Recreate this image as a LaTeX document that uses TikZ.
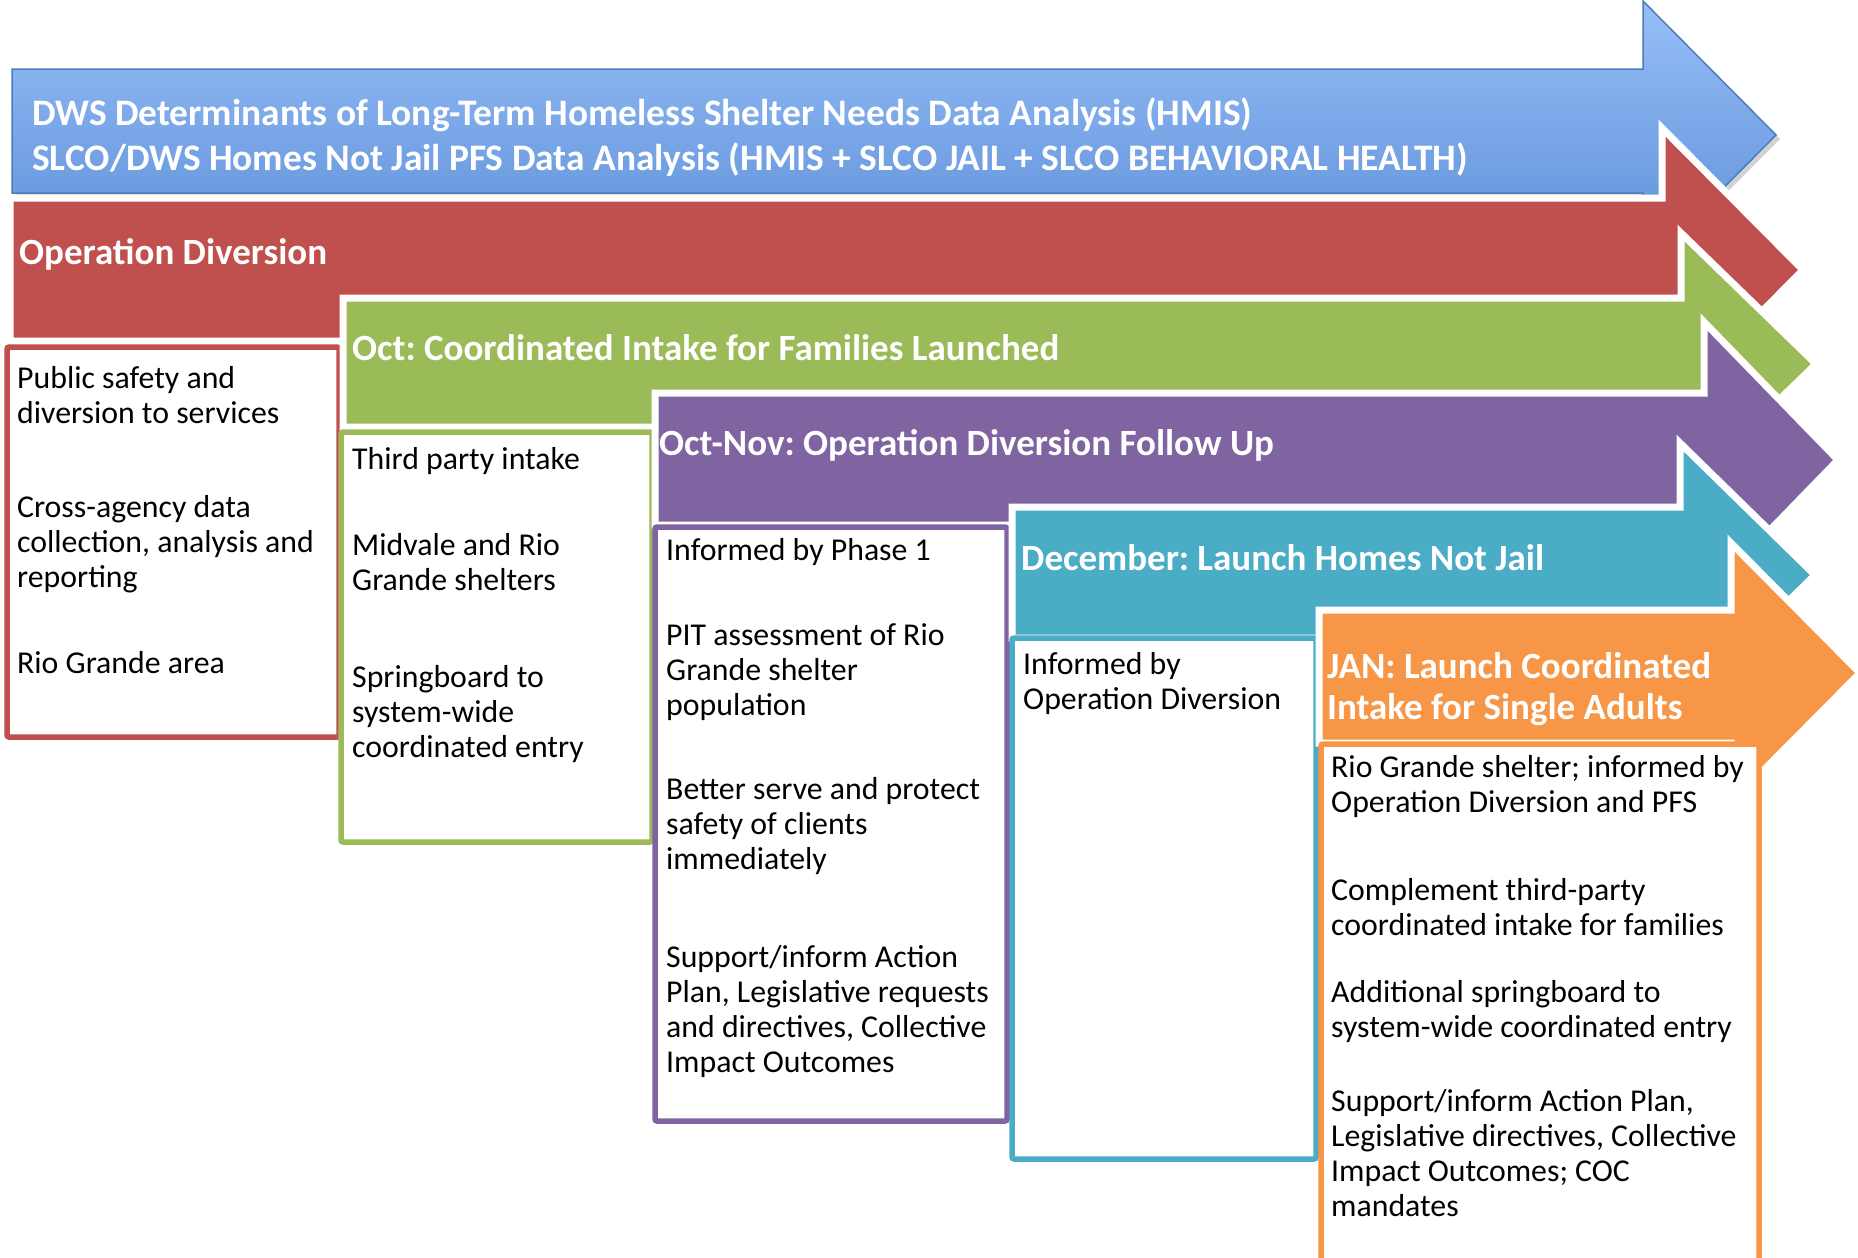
\documentclass[tikz,border=0pt]{standalone}
\usepackage{fontspec}
\setmainfont{Carlito}
\usetikzlibrary{shadows}
\definecolor{cblueT}{HTML}{97BEF8}
\definecolor{cblueB}{HTML}{5B8ED6}
\definecolor{cblueE}{HTML}{4A7EBB}
\definecolor{cred}{HTML}{C0504D}
\definecolor{cgreen}{HTML}{9BBB59}
\definecolor{cpurple}{HTML}{8064A2}
\definecolor{cteal}{HTML}{4BACC6}
\definecolor{corange}{HTML}{F79646}
\newcommand\bodyfont{\fontsize{31.8}{35}\selectfont}
\newcommand\headfont{\fontsize{37}{41.5}\selectfont\bfseries}
\newcommand\bluefont{\fontsize{37.4}{45}\selectfont\bfseries}
\frenchspacing
\begin{document}
\begin{tikzpicture}[x=1pt,y=-1pt,
  arrowshape/.style={fill=#1, draw=white, line width=7pt, line join=miter},
  infobox/.style={fill=white, draw=#1, line width=5.5pt, rounded corners=2pt},
  head/.style={anchor=west, inner sep=0pt, text=white, font=\headfont, align=left},
  body/.style={anchor=west, inner sep=0pt, text=black, font=\bodyfont, align=left}]
\useasboundingbox (0,0) rectangle (1858,1258);
\fill[white] (0,0) rectangle (1858,1258);
% blue arrow
\path[top color=cblueT, bottom color=cblueB, draw=cblueE, line width=1.5pt,
  drop shadow={shadow xshift=4pt, shadow yshift=-4pt, opacity=0.35}]
  (12,69) -- (1643,69) -- (1643,1) -- (1776,135) -- (1643,269) -- (1643,193) -- (12,193) -- cycle;
% red
\path[arrowshape=cred] (10,198) -- (1662,198) -- (1662,128) -- (1803,270) -- (1662,412) -- (1662,341) -- (10,341) -- cycle;
\draw[infobox=cred] (7,347) rectangle (339,737);
% green
\path[arrowshape=cgreen] (343,298) -- (1681,298) -- (1681,233) -- (1816,364) -- (1681,495) -- (1681,427) -- (343,427) -- cycle;
\draw[infobox=cgreen] (341,432) rectangle (652,842);
% purple
\path[arrowshape=cpurple] (655,393) -- (1704,393) -- (1704,322) -- (1838,460) -- (1704,598) -- (1704,525) -- (655,525) -- cycle;
\draw[infobox=cpurple] (655,527) rectangle (1007,1121);
% teal
\path[arrowshape=cteal] (1012,507) -- (1680,507) -- (1680,443) -- (1815,575) -- (1680,707) -- (1680,638) -- (1012,638) -- cycle;
\draw[infobox=cteal] (1012,638) rectangle (1316,1159);
% orange
\path[arrowshape=corange] (1319,610) -- (1731,610) -- (1731,543) -- (1860,673) -- (1731,803) -- (1731,743) -- (1319,743) -- cycle;
\draw[infobox=corange] (1321,744) rectangle (1759,1275);
% headers
\node[head, font=\bluefont] (hblue) at (32,137) {DWS Determinants of Long-Term Homeless Shelter Needs Data Analysis (HMIS)\\SLCO/DWS Homes Not Jail PFS Data Analysis (HMIS + SLCO JAIL + SLCO BEHAVIORAL HEALTH)};
\node[head] (hred) at (19,254) {Operation Diversion};
\node[head] (hgreen) at (352,348) {Oct: Coordinated Intake for Families Launched};
\node[head] (hpurple) at (659,445) {Oct-Nov: Operation Diversion Follow Up};
\node[head] (hteal) at (1021,558) {December: Launch Homes Not Jail};
\node[head] (horange) at (1327,689) {JAN: Launch Coordinated\\Intake for Single Adults};
% red box
\node[body] (r1) at (17,395) {Public safety and\\diversion to services};
\node[body] (r2) at (17,544) {Cross-agency data\\collection, analysis and\\reporting};
\node[body] (r3) at (17,663) {Rio Grande area};
% green box
\node[body] (g1) at (352,461) {Third party intake};
\node[body] (g2) at (352,562) {Midvale and Rio\\Grande shelters};
\node[body] (g3) at (352,714) {Springboard to\\system-wide\\coordinated entry};
% purple box
\node[body] (p1) at (666,552) {Informed by Phase 1};
\node[body] (p2) at (666,672) {PIT assessment of Rio\\Grande shelter\\population};
\node[body] (p3) at (666,826) {Better serve and protect\\safety of clients\\immediately};
\node[body] (p4) at (666,1012) {Support/inform Action\\Plan, Legislative requests\\and directives, Collective\\Impact Outcomes};
% teal box
\node[body] (t1) at (1023,684) {Informed by\\Operation Diversion};
% orange box
\node[body] (o1) at (1331,787) {Rio Grande shelter; informed by\\Operation Diversion and PFS};
\node[body] (o2) at (1331,907) {Complement third-party\\coordinated intake for families};
\node[body] (o3) at (1331,1012) {Additional springboard to\\system-wide coordinated entry};
\node[body] (o4) at (1331,1153) {Support/inform Action Plan,\\Legislative directives, Collective\\Impact Outcomes; COC\\mandates};
\end{tikzpicture}
\end{document}
